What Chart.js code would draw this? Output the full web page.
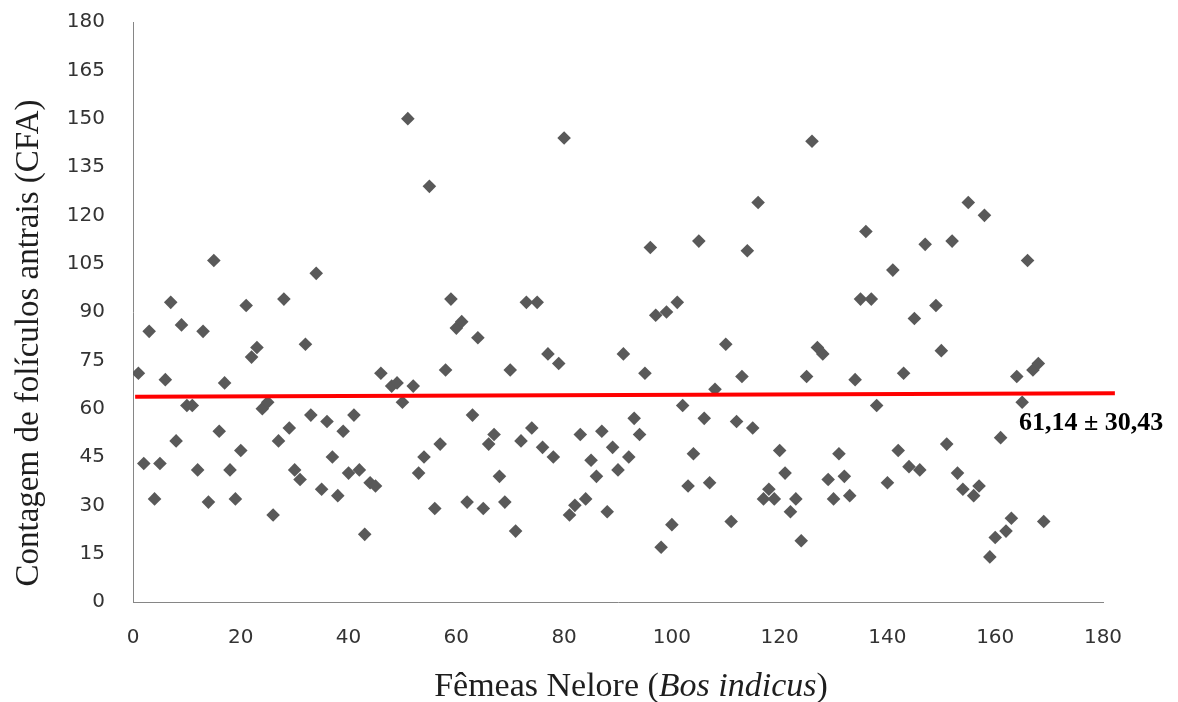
<!DOCTYPE html>
<html>
<head>
<meta charset="utf-8">
<script src="https://cdn.jsdelivr.net/npm/chart.js@4.4.1/dist/chart.umd.min.js"></script>
<style>
  body { margin: 0; background: #fff; }
  #wrap { width: 1178px; height: 702px; position: relative; }
</style>
</head>
<body>
<div id="wrap"><canvas id="cfaChart"></canvas></div>
<script>
// ========== Data ==========
// female number (x) and antral follicle count (y)
const females = [
  1, 2, 3, 4, 5, 6, 7, 8, 9, 10, 11, 12, 13, 14, 15, 16, 17, 18, 19, 20,
  21, 22, 23, 24, 25, 26, 27, 28, 29, 30, 31, 32, 33, 34, 35, 36, 37, 38, 39, 40,
  41, 42, 43, 44, 45, 46, 48, 49, 50, 51, 52, 53, 54, 55, 56, 57, 58, 59, 60,
  61, 62, 63, 64, 65, 66, 67, 68, 69, 70, 71, 72, 73, 74, 75, 76, 77, 78, 79, 80,
  81, 82, 83, 84, 85, 86, 87, 88, 89, 90, 91, 92, 93, 94, 95, 96, 97, 98, 99, 100,
  101, 102, 103, 104, 105, 106, 107, 108, 110, 111, 112, 113, 114, 115, 116, 117, 118, 119, 120,
  121, 122, 123, 124, 125, 126, 127, 128, 129, 130, 131, 132, 133, 134, 135, 136, 137, 138, 140,
  141, 142, 143, 144, 145, 146, 147, 149, 150, 151, 152, 153, 154, 155, 156, 157, 158, 159, 160,
  161, 162, 163, 164, 165, 166, 167, 168, 169
];
const cfa = [
  71, 43, 84, 32, 43, 69, 93, 50, 86, 61, 61, 41, 84, 31, 106, 53, 68, 41, 32, 47,
  92, 76, 79, 60, 62, 27, 50, 94, 54, 41, 38, 80, 58, 102, 35, 56, 45, 33, 53, 40,
  58, 41, 21, 37, 36, 71, 67, 68, 62, 150, 67, 40, 45, 129, 29, 49, 72, 94, 85,
  87, 31, 58, 82, 29, 49, 52, 39, 31, 72, 22, 50, 93, 54, 93, 48, 77, 45, 74, 144,
  27, 30, 52, 32, 44, 39, 53, 28, 48, 41, 77, 45, 57, 52, 71, 110, 89, 17, 90, 24,
  93, 61, 36, 46, 112, 57, 37, 66, 80, 25, 56, 70, 109, 54, 124, 32, 35, 32, 47,
  40, 28, 32, 19, 70, 143, 79, 77, 38, 32, 46, 39, 33, 69, 94, 115, 94, 61, 37,
  103, 47, 71, 42, 88, 41, 111, 92, 78, 49, 112, 40, 35, 124, 33, 36, 120, 14, 20,
  51, 22, 26, 70, 62, 106, 72, 74, 25
];

// red trend line (start / end)
const trendX = [0.4, 182.2];
const trendY = [63.7, 64.8];

const meanLabel = '61,14 \u00b1 30,43';
const yTitle = 'Contagem de folículos antrais (CFA)';
const xTitleParts = [
  { text: 'Fêmeas Nelore (', italic: false },
  { text: 'Bos indicus', italic: true },
  { text: ')', italic: false }
];

// ========== Titles plugin ==========
const titlesPlugin = {
  id: 'titles',
  afterDraw(chart) {
    const ctx = chart.ctx;
    ctx.save();
    ctx.fillStyle = '#1e1e1e';
    ctx.textBaseline = 'middle';

    // y title, rotated
    ctx.save();
    ctx.translate(29, 343);
    ctx.rotate(-Math.PI / 2);
    ctx.font = '33px "Liberation Serif"';
    ctx.textAlign = 'center';
    ctx.fillText(yTitle, 0, 0);
    ctx.restore();

    // x title with italic species name
    const normal = '34px "Liberation Serif"';
    const italic = 'italic 34px "Liberation Serif"';
    let total = 0;
    xTitleParts.forEach(p => {
      ctx.font = p.italic ? italic : normal;
      total += ctx.measureText(p.text).width;
    });
    let x = 631 - total / 2;
    ctx.textAlign = 'left';
    xTitleParts.forEach(p => {
      ctx.font = p.italic ? italic : normal;
      ctx.fillText(p.text, x, 687);
      x += ctx.measureText(p.text).width;
    });

    // mean ± sd label
    ctx.fillStyle = '#000';
    ctx.font = 'bold 26px "Liberation Serif"';
    ctx.fillText(meanLabel, 1019, 423);
    ctx.restore();
  }
};

// ========== Chart ==========
const points = females.map((f, i) => ({ x: f, y: cfa[i] }));
const trend = trendX.map((t, i) => ({ x: t, y: trendY[i] }));

const tickFont = { family: '"DejaVu Sans"', size: 20 };

new Chart(document.getElementById('cfaChart'), {
  type: 'scatter',
  data: {
    datasets: [
      {
        label: 'CFA',
        data: points,
        pointStyle: 'rectRot',
        pointRadius: 6.8,
        pointHoverRadius: 6.8,
        backgroundColor: '#595959',
        borderColor: '#595959',
        borderWidth: 0,
        order: 2
      },
      {
        type: 'line',
        label: 'média',
        data: trend,
        borderColor: '#ff0000',
        borderWidth: 4,
        pointRadius: 0,
        fill: false,
        clip: false,
        order: 1
      }
    ]
  },
  options: {
    responsive: true,
    maintainAspectRatio: false,
    animation: false,
    layout: { padding: { left: 0, right: 75, top: 22, bottom: 0 } },
    plugins: {
      legend: { display: false },
      tooltip: { enabled: false }
    },
    scales: {
      x: {
        type: 'linear',
        min: 0,
        max: 180,
        grid: { display: false, drawTicks: false },
        border: { display: true, color: '#868686', width: 1 },
        ticks: { stepSize: 20, font: tickFont, color: '#333333', padding: 24, maxRotation: 0 },
        afterFit(scale) { scale.height = 100; }
      },
      y: {
        min: 0,
        max: 180,
        grid: { display: false, drawTicks: false },
        border: { display: true, color: '#868686', width: 1 },
        ticks: { stepSize: 15, font: tickFont, color: '#333333', padding: 28 },
        afterFit(scale) {
          scale.width = 133;
          // tick padding should not push the plot area down
          scale.paddingTop = 12;
          scale.paddingBottom = 12;
        }
      }
    }
  },
  plugins: [titlesPlugin]
});
</script>
</body>
</html>
